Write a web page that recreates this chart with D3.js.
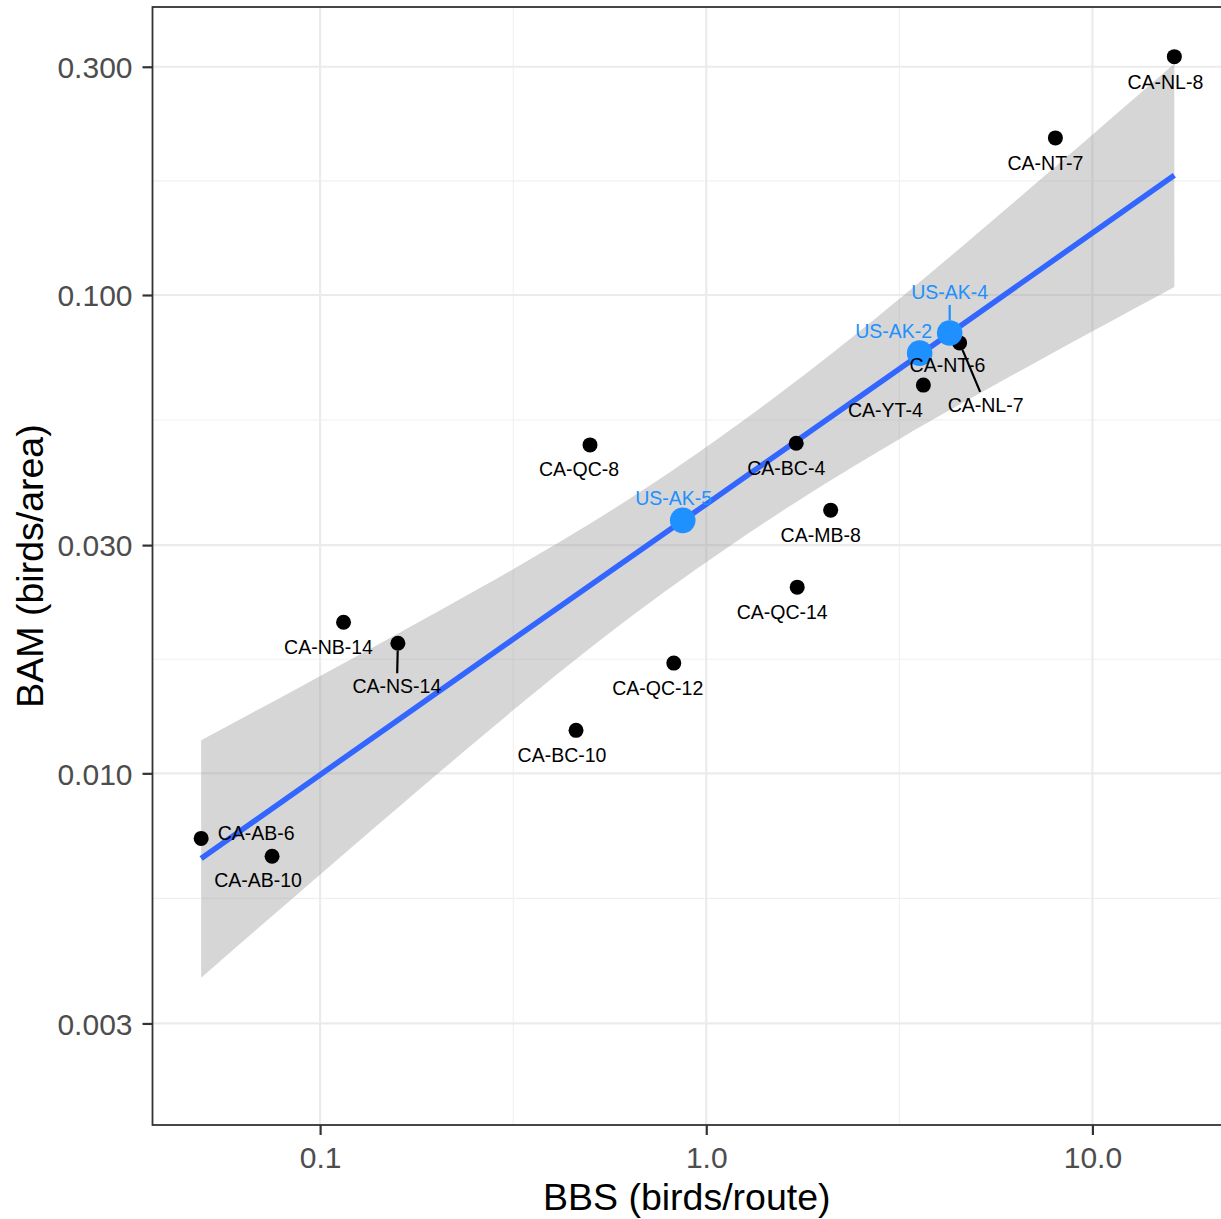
<!DOCTYPE html>
<html>
<head>
<meta charset="utf-8">
<script src="https://cdn.jsdelivr.net/npm/d3@7"></script>
<style>
  body { margin: 0; background: #fff; }
  svg { display: block; font-family: "Liberation Sans", Arial, sans-serif; }
</style>
</head>
<body>
<svg id="chart" width="1221" height="1219"></svg>
<script>
// Survey sites, BBS (birds/route) vs BAM (birds/area)
const sites = ["CA-NL-8", "CA-NT-7", "CA-NT-6", "CA-NL-7", "CA-YT-4", "CA-BC-4", "CA-QC-8", "CA-MB-8",
  "CA-QC-14", "CA-NB-14", "CA-NS-14", "CA-QC-12", "CA-BC-10", "CA-AB-6", "CA-AB-10",
  "US-AK-4", "US-AK-2", "US-AK-5"]
const bbs = [16.3, 8.02, 4.24, 4.53, 3.65, 1.71, 0.50, 2.10, 1.72, 0.115, 0.159, 0.824, 0.46, 0.0492, 0.0751,
  4.27, 3.57, 0.869]
const bam = [0.315, 0.213, 0.0821, 0.0794, 0.0648, 0.0490, 0.0486, 0.0355, 0.0245, 0.0207, 0.0187, 0.0170,
  0.0123, 0.00731, 0.00671, 0.0833, 0.0756, 0.0338]

// fitted line and its confidence band
const smoothX = [0.0492, 0.316, 1.0, 3.16, 16.3]
const smoothFit = [0.00664, 0.01907, 0.03654, 0.07002, 0.178]
const smoothLo = [0.00374, 0.01354, 0.02763, 0.04996, 0.1039]
const smoothHi = [0.01172, 0.02672, 0.04809, 0.09809, 0.3043]

const xTicks = [0.1, 1, 10]
const xTickLabels = ["0.1", "1.0", "10.0"]
const yTicks = [0.003, 0.01, 0.03, 0.1, 0.3]
const yTickLabels = ["0.003", "0.010", "0.030", "0.100", "0.300"]

// label placement (like ggrepel's output), pixels from the point
const labelOffsets = [[-9, 25], [-10, 25], [-1, 29], [26, 62], [-38, 25], [-10, 25], [-11, 24], [-10, 25],
  [-15, 25], [-15, 25], [-1, 43], [-16, 25], [-14, 25], [55, -5], [-14, 24],
  [0, -41], [-26, -22], [-9, -22]]
const segmentSites = ["CA-NL-7", "CA-NS-14", "US-AK-4"]

const blue = "#1E90FF"
const pLeft = 152.5, pRight = 1223, pTop = 7, pBottom = 1125

const data = sites.map((s, i) => ({
  site: s, x: bbs[i], y: bam[i], us: s.startsWith("US"),
  dx: labelOffsets[i][0], dy: labelOffsets[i][1]
}))

// x domain: data range with 5% expansion in log space
const lxExt = d3.extent(bbs, (d) => Math.log10(d))
const pad = (lxExt[1] - lxExt[0]) * 0.05
const x = d3.scaleLog().domain([10 ** (lxExt[0] - pad), 10 ** (lxExt[1] + pad)]).range([pLeft, pRight])
const y = d3.scaleLog().domain([0.00184, 0.4]).range([pBottom, pTop])

const svg = d3.select("#chart")

svg.append("defs").append("clipPath").attr("id", "panel")
  .append("rect").attr("x", pLeft).attr("y", pTop).attr("width", pRight - pLeft).attr("height", pBottom - pTop)

const panel = svg.append("g").attr("clip-path", "url(#panel)")

// minor grid: midpoints between major breaks in log space
function mids(ticks) {
  var out = []
  for (var i = 0; i < ticks.length - 1; i++) {
    out.push(Math.sqrt(ticks[i] * ticks[i + 1]))
  }
  return out
}
const xMinor = mids([0.01].concat(xTicks).concat([100]))
const yMinor = mids(yTicks)

panel.selectAll(".xminor").data(xMinor).enter().append("line")
  .attr("x1", (d) => x(d)).attr("x2", (d) => x(d)).attr("y1", pTop).attr("y2", pBottom)
  .attr("stroke", "#F0F0F0").attr("stroke-width", 1.1)
panel.selectAll(".yminor").data(yMinor).enter().append("line")
  .attr("y1", (d) => y(d)).attr("y2", (d) => y(d)).attr("x1", pLeft).attr("x2", pRight)
  .attr("stroke", "#F0F0F0").attr("stroke-width", 1.1)
panel.selectAll(".xmajor").data(xTicks).enter().append("line")
  .attr("x1", (d) => x(d)).attr("x2", (d) => x(d)).attr("y1", pTop).attr("y2", pBottom)
  .attr("stroke", "#EBEBEB").attr("stroke-width", 2.2)
panel.selectAll(".ymajor").data(yTicks).enter().append("line")
  .attr("y1", (d) => y(d)).attr("y2", (d) => y(d)).attr("x1", pLeft).attr("x2", pRight)
  .attr("stroke", "#EBEBEB").attr("stroke-width", 2.2)

// smooth: band then line
const smooth = smoothX.map((v, i) => ({x: v, fit: smoothFit[i], lo: smoothLo[i], hi: smoothHi[i]}))

panel.append("path").datum(smooth)
  .attr("d", d3.area().curve(d3.curveNatural).x((d) => x(d.x)).y0((d) => y(d.lo)).y1((d) => y(d.hi)))
  .attr("fill", "#999999").attr("fill-opacity", 0.4)
panel.append("path").datum(smooth)
  .attr("d", d3.line().x((d) => x(d.x)).y((d) => y(d.fit)))
  .attr("fill", "none").attr("stroke", "#3366FF").attr("stroke-width", 5.5)

// points: black first, blue on top
const ordered = data.filter((d) => !d.us).concat(data.filter((d) => d.us))
panel.selectAll(".pt").data(ordered).enter().append("circle")
  .attr("cx", (d) => x(d.x)).attr("cy", (d) => y(d.y))
  .attr("r", (d) => d.us ? 12.8 : 7.5)
  .attr("fill", (d) => d.us ? blue : "#000")

// labels
const labels = panel.selectAll(".lab").data(data).enter().append("text")
  .attr("x", (d) => x(d.x) + d.dx).attr("y", (d) => y(d.y) + d.dy)
  .attr("dy", "0.36em")
  .attr("text-anchor", "middle")
  .attr("font-size", 19.5)
  .attr("fill", (d) => d.us ? blue : "#000")
  .text((d) => d.site)

labels.each(function(d) { d.w = this.getComputedTextLength() })

// segments from point edge to label box
data.filter((d) => segmentSites.includes(d.site)).forEach(function(d) {
  var px = x(d.x), py = y(d.y)
  var hw = d.w / 2 + 2, hh = 13
  var tx = Math.abs(d.dx) > 0 ? hw / Math.abs(d.dx) : Infinity
  var ty = Math.abs(d.dy) > 0 ? hh / Math.abs(d.dy) : Infinity
  var t = 1 - Math.min(tx, ty, 1)
  var len = Math.sqrt(d.dx * d.dx + d.dy * d.dy)
  var r0 = (d.us ? 12.8 : 7.5) / len
  panel.insert("line", "text")
    .attr("x1", px + d.dx * r0).attr("y1", py + d.dy * r0)
    .attr("x2", px + d.dx * t).attr("y2", py + d.dy * t)
    .attr("stroke", d.us ? blue : "#000").attr("stroke-width", 2.2)
})

// panel border
svg.append("rect").attr("x", pLeft).attr("y", pTop).attr("width", pRight - pLeft).attr("height", pBottom - pTop)
  .attr("fill", "none").attr("stroke", "#333333").attr("stroke-width", 1.8)

// axes
const xAxis = svg.append("g").attr("transform", "translate(0," + pBottom + ")")
  .call(d3.axisBottom(x).tickValues(xTicks).tickFormat((d, i) => xTickLabels[i]).tickSize(10).tickPadding(12))
const yAxis = svg.append("g").attr("transform", "translate(" + pLeft + ",0)")
  .call(d3.axisLeft(y).tickValues(yTicks).tickFormat((d, i) => yTickLabels[i]).tickSize(10).tickPadding(10))

;[xAxis, yAxis].forEach(function(a) {
  a.select(".domain").remove()
  a.selectAll(".tick line").attr("stroke", "#333333").attr("stroke-width", 2.2)
  a.selectAll(".tick text").attr("fill", "#4D4D4D").attr("font-size", 30)
    .attr("font-family", "'Liberation Sans', Arial, sans-serif")
})
yAxis.selectAll(".tick text").attr("dy", "0.36em")

svg.append("text")
  .attr("x", (pLeft + 1221) / 2).attr("y", 1210)
  .attr("text-anchor", "middle").attr("font-size", 37.5).attr("fill", "#000")
  .text("BBS (birds/route)")

svg.append("text")
  .attr("transform", "translate(43," + (pTop + pBottom) / 2 + ") rotate(-90)")
  .attr("text-anchor", "middle").attr("font-size", 37.5).attr("fill", "#000")
  .text("BAM (birds/area)")
</script>
</body>
</html>
